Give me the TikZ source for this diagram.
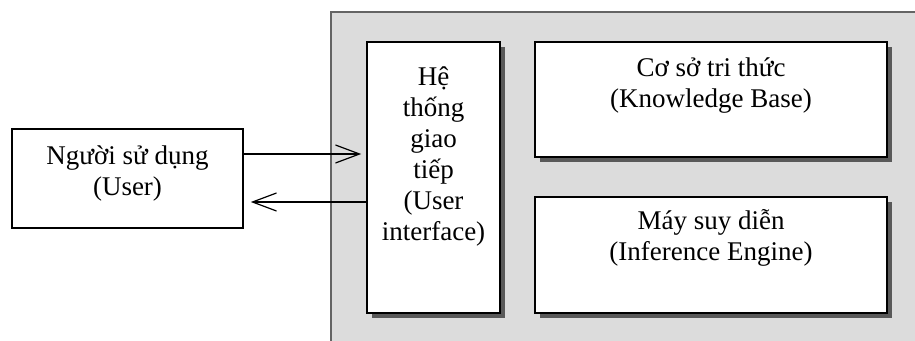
\documentclass[tikz,border=0pt]{standalone}
\usepackage{fontspec}
\setmainfont{Liberation Serif}
\usetikzlibrary{arrows.meta,shadows}
\definecolor{panel}{RGB}{220,220,220}
\definecolor{panelline}{RGB}{100,100,100}

\begin{document}
\begin{tikzpicture}[x=1pt,y=-1pt,
  box/.style={draw=black, line width=1.6pt, fill=white, inner sep=0pt},
  shadowbox/.style={box, drop shadow={shadow xshift=5pt, shadow yshift=-5pt, fill=black!65, opacity=1}},
  txt/.style={align=center, anchor=base, inner sep=0pt, font=\fontsize{27}{31}\selectfont},
  link/.style={line width=1.2pt, -{Straight Barb[length=24pt,width=18pt,line width=1.2pt]}}]
\useasboundingbox (0,0) rectangle (915,340);
\clip (0,0) rectangle (915,340);
\node [draw=panelline, line width=1.5pt, fill=panel, minimum width=600pt, minimum height=340pt, anchor=north west, inner sep=0pt] (sys) at (330,11) {};
\node [box, minimum width=231pt, minimum height=99pt] (user) at (127.5,178.5) {};
\node [shadowbox, minimum width=133pt, minimum height=271pt] (ui) at (433.5,177.5) {};
\node [shadowbox, minimum width=352pt, minimum height=115pt] (kb) at (711,99.5) {};
\node [shadowbox, minimum width=352pt, minimum height=116pt] (ie) at (711,255) {};
% text sits on the baseline of its last line
\node [txt] (usertxt) at (127.5,195) {Người sử dụng\\(User)};
\node [txt] (uitxt) at (433.5,240) {Hệ\\thống\\giao\\tiếp\\(User\\interface)};
\node [txt] (kbtxt) at (711,107) {Cơ sở tri thức\\(Knowledge Base)};
\node [txt] (ietxt) at (711,260) {Máy suy diễn\\(Inference Engine)};
\draw [link, shorten >=5pt] ([yshift=24.5pt]user.east) -- ([yshift=24.5pt]user.east -| ui.west);
\draw [link, shorten >=7pt] ([yshift=-23.5pt]user.east -| ui.west) -- ([yshift=-23.5pt]user.east);
\end{tikzpicture}
\end{document}
